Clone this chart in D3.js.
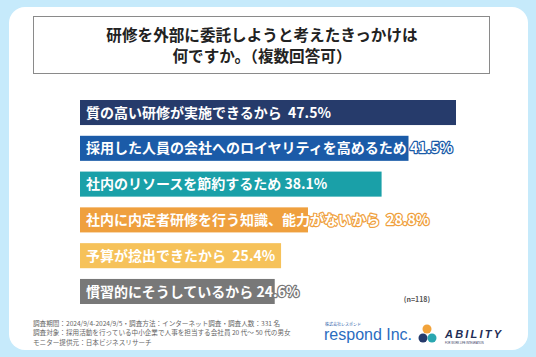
<!DOCTYPE html>
<html><head><meta charset="utf-8">
<script src="https://cdn.jsdelivr.net/npm/d3@7"></script>
<style>html,body{margin:0;padding:0;background:#c6eafb;}svg{display:block;}text{white-space:pre;}</style>
</head><body>
<script>
const categories = [
  "質の高い研修が実施できるから",
  "採用した人員の会社へのロイヤリティを高めるため",
  "社内のリソースを節約するため",
  "社内に内定者研修を行う知識、能力がないから",
  "予算が捻出できたから",
  "慣習的にそうしているから"
];
const values = [47.5, 41.5, 38.1, 28.8, 25.4, 24.6];
const colors = ["#263b6b", "#1b5ba8", "#1aa0a8", "#efa03e", "#f6c25a", "#787878"];
const titleLines = ["研修を外部に委託しようと考えたきっかけは", "何ですか。（複数回答可）"];
const sampleNote = "(n=118)";
const footerLines = [
  "調査期間：2024/9/4-2024/9/5・調査方法：インターネット調査・調査人数：331 名",
  "調査対象：採用活動を行っている中小企業で人事を担当する会社員 20 代～ 50 代の男女",
  "モニター提供元：日本ビジネスリサーチ"
];

const W = 536, H = 357;
const FONT = "'Noto Sans CJK JP','Noto Sans',sans-serif";
const svg = d3.select("body").append("svg").attr("width", W).attr("height", H);
svg.append("rect").attr("width", W).attr("height", H).attr("fill", "#c6eafb");
svg.append("rect").attr("x", 9).attr("y", 7).attr("width", 519).attr("height", 343)
  .attr("rx", 16).attr("fill", "#ffffff");

// title box
svg.append("rect").attr("x", 33.5).attr("y", 16.5).attr("width", 456).attr("height", 57)
  .attr("fill", "#fff").attr("stroke", "#8a8a8a").attr("stroke-width", 1);
svg.append("g").selectAll("text").data(titleLines).join("text")
  .attr("x", 262).attr("y", (d, i) => 40.5 + i * 21.5)
  .attr("text-anchor", "middle").attr("font-family", FONT).attr("font-weight", 700)
  .attr("font-size", 15.6).attr("fill", "#222").text(d => d);

// scales
const x = d3.scaleLinear().domain([0, 47.5]).range([80, 456]);
const y = d3.scaleBand().domain(categories).range([100, 304]).paddingInner(0.3).paddingOuter(0);

const g = svg.append("g");
g.selectAll("rect.bar").data(categories).join("rect").attr("class", "bar")
  .attr("x", x(0)).attr("y", d => y(d))
  .attr("width", (d, i) => x(values[i]) - x(0)).attr("height", y.bandwidth())
  .attr("fill", (d, i) => colors[i]);

g.selectAll("text.lab").data(categories).join("text").attr("class", "lab")
  .attr("x", x(0) + 6).attr("y", d => y(d) + y.bandwidth() / 2)
  .attr("dy", "0.36em").attr("font-family", FONT).attr("font-weight", 700)
  .attr("font-size", 14).attr("fill", "#fff")
  .attr("stroke", (d, i) => colors[i]).attr("stroke-width", 2.4)
  .attr("stroke-linejoin", "round").attr("paint-order", "stroke")
  .text((d, i) => d + (i === 0 || i === 3 || i === 4 ? "  " : " ") + values[i].toFixed(1) + "%");

svg.append("text").attr("x", 417).attr("y", 302).attr("text-anchor", "middle")
  .attr("font-family", FONT).attr("font-weight", 700).attr("font-size", 7)
  .attr("fill", "#555").text(sampleNote);

svg.append("g").selectAll("text").data(footerLines).join("text")
  .attr("x", 33).attr("y", (d, i) => 326 + i * 9.3)
  .attr("font-family", FONT).attr("font-size", 6.6).attr("fill", "#666").text(d => d);

// logos
svg.append("text").attr("x", 325).attr("y", 326).attr("font-family", FONT)
  .attr("font-size", 4).attr("fill", "#2a5ca8").text("株式会社レスポンド");
svg.append("text").attr("x", 324).attr("y", 340).attr("font-family", "'Liberation Sans',Arial,sans-serif")
  .attr("font-size", 16).attr("fill", "#2a6cc0").text("respond Inc.");
const logo = svg.append("g");
logo.append("circle").attr("cx", 427).attr("cy", 329).attr("r", 4.5).attr("fill", "#f2a33a");
logo.append("circle").attr("cx", 423).attr("cy", 338).attr("r", 4.5).attr("fill", "#253a6b");
logo.append("circle").attr("cx", 432).attr("cy", 338).attr("r", 4.5).attr("fill", "#2aa7b0");
svg.append("text").attr("x", 445).attr("y", 338).attr("font-family", "'Liberation Sans',Arial,sans-serif")
  .attr("font-weight", 700).attr("font-style", "italic").attr("font-size", 11)
  .attr("letter-spacing", 2.2).attr("fill", "#1f2d55").text("ABILITY");
svg.append("text").attr("x", 445).attr("y", 343.5).attr("font-family", "'Liberation Sans',Arial,sans-serif")
  .attr("font-size", 2.6).attr("fill", "#1f2d55").text("FOR WORK LIFE INTEGRATION");
</script>
</body></html>
